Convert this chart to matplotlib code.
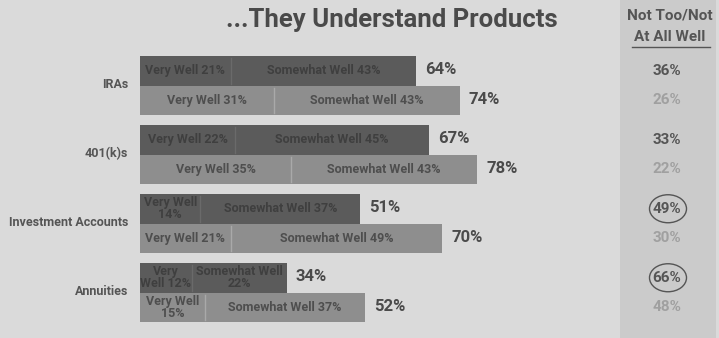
import matplotlib
matplotlib.use("Agg")
import matplotlib.pyplot as plt
from matplotlib.patches import Ellipse, Rectangle

# survey results: share who understand each product (percent)
products = ["IRAs", "401(k)s", "Investment Accounts", "Annuities"]
very_well_dark = [21, 22, 14, 12]
somewhat_dark = [43, 45, 37, 22]
very_well_light = [31, 35, 21, 15]
somewhat_light = [43, 43, 49, 37]
not_well_dark = [36, 33, 49, 66]
not_well_light = [26, 22, 30, 48]
circled = [False, False, True, True]

# how the in-bar labels break onto lines
vw_dark_fmt = ["Very Well {}%", "Very Well {}%", "Very Well\n{}%", "Very\nWell {}%"]
sw_dark_fmt = ["Somewhat Well {}%", "Somewhat Well {}%", "Somewhat Well {}%", "Somewhat Well\n{}%"]
vw_light_fmt = ["Very Well {}%", "Very Well {}%", "Very Well {}%", "Very Well\n{}%"]
sw_light_fmt = ["Somewhat Well {}%"] * 4

W, H = 719, 338
PX = 4.32          # pixels per percentage point
X0 = 140           # pixel column of the 0% baseline

BG = "#dadada"
PANEL = "#cbcbcb"
DARK = "#5b5b5b"
LIGHT = "#8e8e8e"
TXT = "#4a4a4a"

plt.rcParams["font.family"] = ["Roboto", "DejaVu Sans"]


def px(x):
    return (x - X0) / PX


fig = plt.figure(figsize=(W / 100, H / 100), dpi=100, facecolor=BG)
ax = fig.add_axes([0, 0, 1, 1])
ax.set_xlim(px(0), px(W))
ax.set_ylim(H, 0)
ax.axis("off")
ax.set_facecolor(BG)

# shaded column on the right
ax.add_patch(Rectangle((px(620), 0), px(716) - px(620), H, color=PANEL, lw=0, zorder=0))

fig.text(0.545, 0.94, "...They Understand Products", ha="center", va="center",
         fontsize=18.5, fontweight="bold", color=TXT)
ax.text(px(670), 16, "Not Too/Not", ha="center", va="center", fontsize=11,
        fontweight="bold", color="#555555")
ax.text(px(670), 37, "At All Well", ha="center", va="center", fontsize=11,
        fontweight="bold", color="#555555")
ax.plot([px(632), px(710)], [47, 47], color="#555555", lw=1)

bar_h = 29.5
pitch = 69
first_mid = 85.5

for i, name in enumerate(products):
    mid = first_mid + i * pitch
    y_dark = mid - bar_h / 2
    y_light = mid + bar_h / 2
    rows = [
        (y_dark, very_well_dark[i], somewhat_dark[i], DARK, "#3f3f3f", "#6a6a6a",
         vw_dark_fmt[i], sw_dark_fmt[i], not_well_dark[i], "#555555"),
        (y_light, very_well_light[i], somewhat_light[i], LIGHT, "#4e4e4e", "#a9a9a9",
         vw_light_fmt[i], sw_light_fmt[i], not_well_light[i], "#a0a0a0"),
    ]
    for y, vw, sw, col, tcol, dcol, vfmt, sfmt, nw, ncol in rows:
        total = vw + sw
        ax.barh(y, vw, height=bar_h, left=0, color=col, lw=0)
        ax.barh(y, sw, height=bar_h, left=vw, color=col, lw=0)
        ax.plot([vw, vw], [y - bar_h / 2 + 2, y + bar_h / 2 - 2], color=dcol, lw=1)
        ax.text(vw / 2, y, vfmt.format(vw), ha="center", va="center", fontsize=9,
                fontweight="bold", color=tcol, linespacing=0.9)
        ax.text(vw + sw / 2, y, sfmt.format(sw), ha="center", va="center", fontsize=9,
                fontweight="bold", color=tcol, linespacing=0.9)
        ax.text(total + 2.1, y - 1, f"{total}%", ha="left", va="center", fontsize=12,
                fontweight="bold", color=TXT)
        ax.text(px(667), y, f"{nw}%", ha="center", va="center", fontsize=11,
                fontweight="bold", color=ncol)
    if circled[i]:
        ax.add_patch(Ellipse((px(668), y_dark), 37 / PX, 28, fill=False,
                             ec="#555555", lw=1))
    ax.text(px(128), mid - 1, name, ha="right", va="center", fontsize=9,
            fontweight="bold", color="#555555")

fig.savefig("out.png", dpi=100, facecolor=BG)
